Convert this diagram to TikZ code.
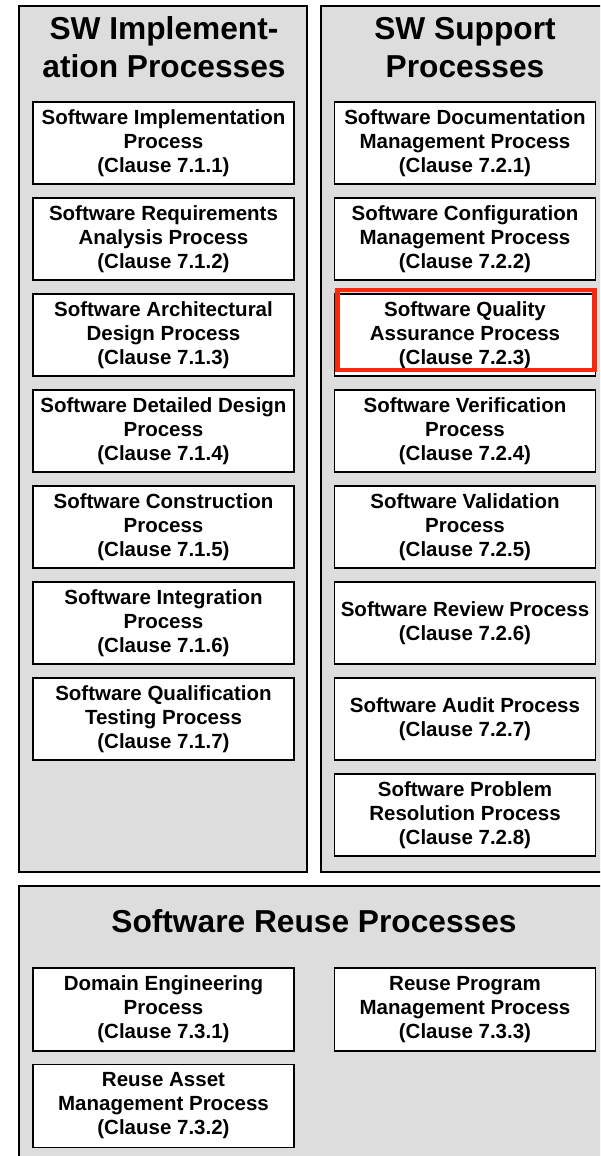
\documentclass[tikz,border=0pt]{standalone}
\usepackage{fontspec}
\setmainfont{Liberation Sans}
\definecolor{panelgray}{RGB}{221,221,221}
\definecolor{hlred}{RGB}{250,40,10}
\tikzset{
  panel/.style={draw=black, line width=1.5pt, fill=panelgray},
  proc/.style={draw=black, line width=1.5pt, fill=white, minimum width=261pt, minimum height=82pt,
    inner sep=0pt, align=center, font=\bfseries\fontsize{20.5}{24}\selectfont},
  ptitle/.style={inner sep=0pt, align=center, font=\bfseries\fontsize{31.7}{38}\selectfont},
  highlight/.style={draw=hlred, line width=4.5pt, inner sep=0pt}
}
\begin{document}
\begin{tikzpicture}[x=1pt, y=-1pt]
\useasboundingbox (0,0) rectangle (600,1156);
\clip (0,0) rectangle (600,1156);
\fill[white] (0,0) rectangle (600,1156);
% panels
\node[panel, minimum width=288pt, minimum height=866pt, inner sep=0pt] (impl) at (163,439) {};
\node[panel, minimum width=288pt, minimum height=866pt, inner sep=0pt] (supp) at (465,439) {};
\node[panel, minimum width=590pt, minimum height=284pt, inner sep=0pt] (reuse) at (314,1028) {};
% titles
\node[ptitle] (timpl) at (164,47.5) {SW Implement-\\ation Processes};
\node[ptitle] (tsupp) at (465,47.5) {SW Support\\Processes};
\node[ptitle, anchor=base] (treuse) at (314,932) {Software Reuse Processes};
% implementation processes
\node[proc] (i1) at (163.5,143) {Software Implementation\\Process\\(Clause 7.1.1)};
\node[proc] (i2) at (163.5,239) {Software Requirements\\Analysis Process\\(Clause 7.1.2)};
\node[proc] (i3) at (163.5,335) {Software Architectural\\Design Process\\(Clause 7.1.3)};
\node[proc] (i4) at (163.5,431) {Software Detailed Design\\Process\\(Clause 7.1.4)};
\node[proc] (i5) at (163.5,527) {Software Construction\\Process\\(Clause 7.1.5)};
\node[proc] (i6) at (163.5,623) {Software Integration\\Process\\(Clause 7.1.6)};
\node[proc] (i7) at (163.5,719) {Software Qualification\\Testing Process\\(Clause 7.1.7)};
% support processes
\node[proc] (s1) at (465,143) {Software Documentation\\Management Process\\(Clause 7.2.1)};
\node[proc] (s2) at (465,239) {Software Configuration\\Management Process\\(Clause 7.2.2)};
\node[proc] (s3) at (465,335) {Software Quality\\Assurance Process\\(Clause 7.2.3)};
\node[proc] (s4) at (465,431) {Software Verification\\Process\\(Clause 7.2.4)};
\node[proc] (s5) at (465,527) {Software Validation\\Process\\(Clause 7.2.5)};
\node[proc] (s6) at (465,623) {Software Review Process\\(Clause 7.2.6)};
\node[proc] (s7) at (465,719) {Software Audit Process\\(Clause 7.2.7)};
\node[proc] (s8) at (465,815) {Software Problem\\Resolution Process\\(Clause 7.2.8)};
% reuse processes
\node[proc, minimum height=83pt] (r1) at (163.5,1009.5) {Domain Engineering\\Process\\(Clause 7.3.1)};
\node[proc, minimum height=83pt] (r3) at (465,1009.5) {Reuse Program\\Management Process\\(Clause 7.3.3)};
\node[proc, minimum height=83pt] (r2) at (163.5,1106) {Reuse Asset\\Management Process\\(Clause 7.3.2)};
% highlight
\node[highlight, minimum width=257pt, minimum height=80pt] (hl) at (466,330) {};
\end{tikzpicture}
\end{document}
